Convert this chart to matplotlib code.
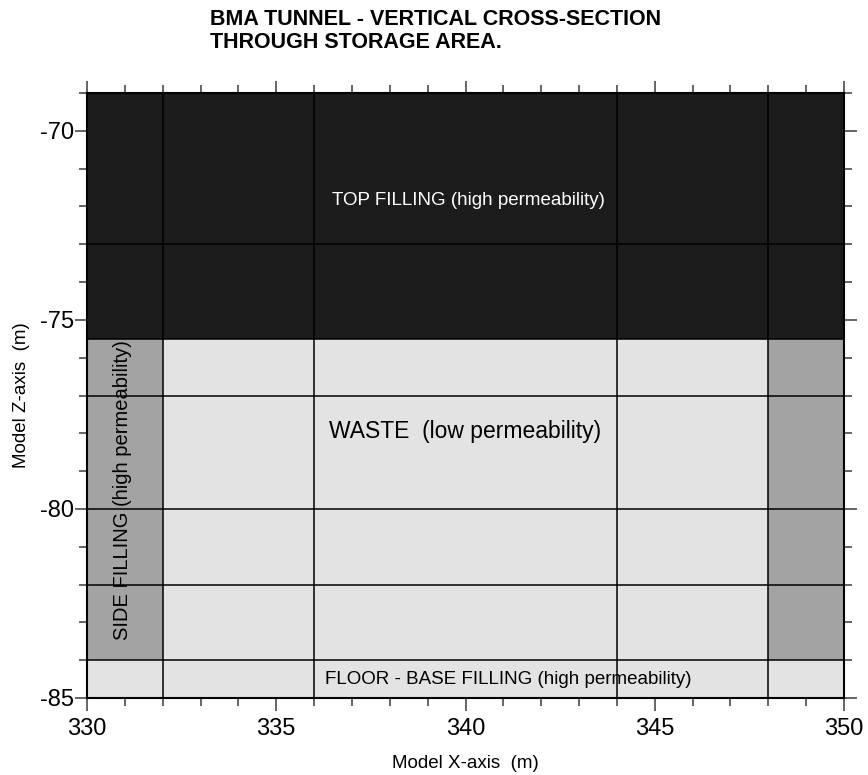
import matplotlib
matplotlib.use("Agg")
import matplotlib.pyplot as plt
from matplotlib.ticker import MultipleLocator

plt.rcParams["font.family"] = ["Liberation Sans", "DejaVu Sans"]
plt.rcParams["axes.unicode_minus"] = False

# material zones of the cross-section (model coordinates, m)
zone_names = ["top", "side_left", "side_right", "waste", "floor"]
zone_x0 = [330, 330, 348, 332, 330]
zone_x1 = [350, 332, 350, 348, 350]
zone_z0 = [-75.5, -84, -84, -84, -85]
zone_z1 = [-69, -75.5, -75.5, -75.5, -84]
zone_colors = ["#1c1c1c", "#a3a3a3", "#a3a3a3", "#e3e3e3", "#e3e3e3"]

# mesh lines
mesh_x = [332, 336, 344, 348]
mesh_z = [-73, -75.5, -77, -80, -82, -84]

x_ticks = [330, 335, 340, 345, 350]
z_ticks = [-70, -75, -80, -85]

fig = plt.figure(figsize=(8.68, 7.75), dpi=100)
ax = fig.add_axes([87 / 868, 1 - 698 / 775, 757 / 868, 605 / 775])

for x0, x1, z0, z1, c in zip(zone_x0, zone_x1, zone_z0, zone_z1, zone_colors):
    ax.bar(x0, z1 - z0, width=x1 - x0, bottom=z0, align="edge", color=c, linewidth=0, zorder=1)

for x in mesh_x:
    ax.axvline(x, color="black", lw=1.1, zorder=2)
for z in mesh_z:
    ax.axhline(z, color="black", lw=1.1, zorder=2)

ax.set_xlim(330, 350)
ax.set_ylim(-85, -69)
ax.set_xticks(x_ticks)
ax.set_yticks(z_ticks)
ax.xaxis.set_minor_locator(MultipleLocator(1))
ax.yaxis.set_minor_locator(MultipleLocator(1))
ax.tick_params(which="both", direction="out", top=True, right=True, labelsize=17, color="#3a3a3a")
ax.tick_params(which="major", length=9, width=1.1)
ax.tick_params(which="minor", length=6, width=1.1)
ax.tick_params(axis="x", pad=5.5)
ax.tick_params(axis="y", pad=0.5)
for s in ax.spines.values():
    s.set_linewidth(1.5)
    s.set_zorder(3)

ax.set_xlabel("Model X-axis  (m)", fontsize=13.5, labelpad=11)
ax.set_ylabel("Model Z-axis  (m)", fontsize=13.5, labelpad=7)

ax.text(340.07, -71.83, "TOP FILLING (high permeability)", color="white",
        fontsize=13.5, ha="center", va="center", zorder=4)
ax.text(340.0, -77.96, "WASTE  (low permeability)", color="black",
        fontsize=16.5, ha="center", va="center", zorder=4)
ax.text(330.95, -79.49, "SIDE FILLING (high permeability)", color="black",
        fontsize=14.5, ha="center", va="center", rotation=90, zorder=4)
ax.text(341.14, -84.5, "FLOOR - BASE FILLING (high permeability)", color="black",
        fontsize=13.5, ha="center", va="center", zorder=4)

fig.text(210 / 868, 1 - 25 / 775, "BMA TUNNEL - VERTICAL CROSS-SECTION",
         fontsize=15.5, fontweight="bold", ha="left", va="baseline")
fig.text(210 / 868, 1 - 48 / 775, "THROUGH STORAGE AREA.",
         fontsize=15.5, fontweight="bold", ha="left", va="baseline")

fig.savefig("out.png", dpi=100)
